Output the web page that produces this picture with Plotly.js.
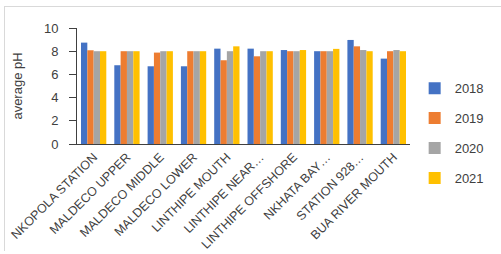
<!DOCTYPE html>
<html><head><meta charset="utf-8">
<script src="https://cdn.plot.ly/plotly-3.0.1.min.js"></script>
<style>
html,body{margin:0;padding:0;background:#fff;}
#frame{position:absolute;left:4px;top:6px;width:520px;height:244px;border-left:1px solid #d9d9d9;border-top:1px solid #d9d9d9;}
#chart{position:absolute;left:0;top:0;width:501px;height:254px;}
</style></head>
<body>
<div id="frame"></div>
<div id="chart"></div>
<script>
const categories = ["NKOPOLA STATION","MALDECO UPPER","MALDECO MIDDLE","MALDECO LOWER","LINTHIPE MOUTH","LINTHIPE NEAR…","LINTHIPE OFFSHORE","NKHATA BAY…","STATION 928…","BUA RIVER MOUTH"];
const years = ["2018","2019","2020","2021"];
const ph2018 = [8.74, 6.79, 6.70, 6.70, 8.22, 8.22, 8.10, 8.00, 8.97, 7.36];
const ph2019 = [8.08, 8.00, 7.88, 8.00, 7.22, 7.56, 8.00, 8.00, 8.42, 8.00];
const ph2020 = [8.00, 8.00, 8.00, 8.00, 8.00, 8.00, 8.00, 8.00, 8.10, 8.10];
const ph2021 = [8.00, 8.00, 8.00, 8.00, 8.42, 8.00, 8.10, 8.20, 8.00, 8.00];
const series = [ph2018, ph2019, ph2020, ph2021];
const colors = ["#4472C4","#ED7D31","#A5A5A5","#FFC000"];

const traces = series.map((vals, i) => ({
  type: "bar", x: categories, y: vals, name: years[i],
  legendgroup: "g" + i,
  marker: {color: colors[i]}
}));

const layout = {
  width: 501, height: 254,
  margin: {l: 77, r: 54, t: 28, b: 110},
  paper_bgcolor: "rgba(0,0,0,0)", plot_bgcolor: "rgba(0,0,0,0)",
  font: {family: "Liberation Sans, Arial, sans-serif", size: 12, color: "#404040"},
  barmode: "group", bargap: 0.24, bargroupgap: 0,
  showlegend: true,
  legend: {x: 1.014, xanchor: "left", y: 0.61, yanchor: "top", traceorder: "grouped",
           tracegroupgap: 10, font: {size: 13, color: "#404040"}, itemwidth: 30},
  xaxis: {type: "category", showline: true, linecolor: "#404040", linewidth: 1,
          ticks: "", tickangle: -45, tickfont: {size: 12.5, color: "#404040"},
          showgrid: false, zeroline: false},
  yaxis: {range: [0, 10], dtick: 2, showline: true, linecolor: "#404040", linewidth: 1,
          ticks: "outside", ticklen: 7, tickcolor: "#404040", showgrid: false, zeroline: false,
          ticklabelstandoff: 8,
          tickfont: {size: 13, color: "#404040"},
          title: {text: "average pH", font: {size: 13, color: "#404040"}, standoff: 18}}
};
Plotly.newPlot("chart", traces, layout, {displayModeBar: false, staticPlot: true});
</script>
</body></html>
